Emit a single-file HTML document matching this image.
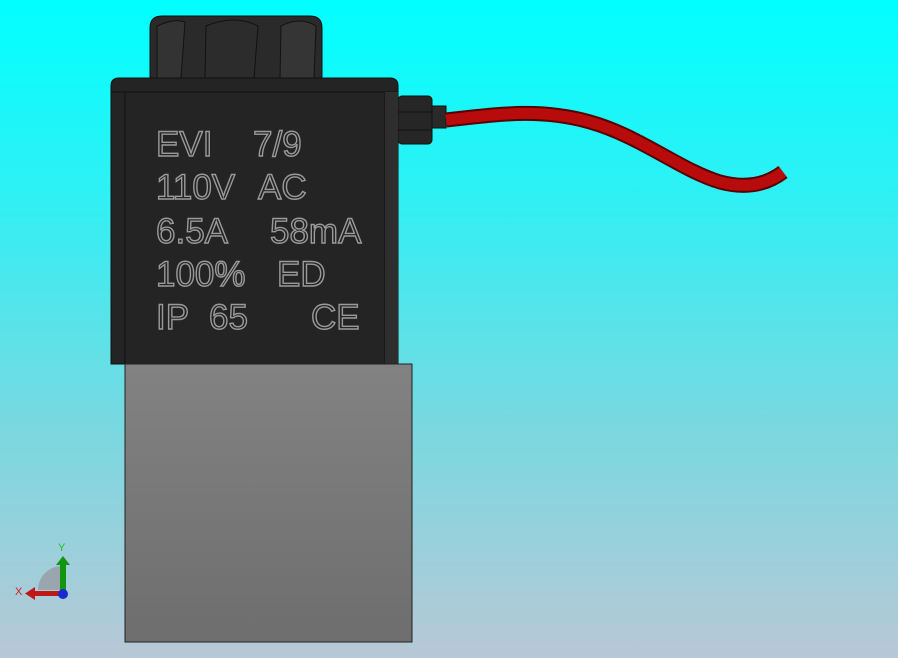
<!DOCTYPE html>
<html><head><style>
html,body{margin:0;padding:0;}
body{width:898px;height:658px;overflow:hidden;background:linear-gradient(#00ffff 0%,#30f0f4 30%,#7ad8e0 65%,#b8c8d6 100%);}
</style></head><body>
<svg width="898" height="658" viewBox="0 0 898 658" xmlns="http://www.w3.org/2000/svg" style="position:absolute;left:0;top:0">
<defs>
<linearGradient id="g" x1="0" y1="0" x2="0" y2="1"><stop offset="0" stop-color="#828282"/><stop offset="1" stop-color="#6e6e6e"/></linearGradient>
</defs>
<path d="M150,78 L150,28 Q150,16 162,16 L310,16 Q322,16 322,28 L322,78 Z" fill="#2a2a2a" stroke="#111" stroke-width="1"/>
<path d="M157,78 L157,26 Q175,18 185,22 L181,78" fill="#333" stroke="#111"/>
<path d="M205,78 L206,26 Q235,14 258,26 L254,78" fill="#2c2c2c" stroke="#111"/>
<path d="M280,78 L281,26 Q300,16 316,26 L314,78" fill="#353535" stroke="#111"/>
<rect x="398" y="96" width="34" height="48" rx="4" fill="#262626" stroke="#111"/>
<line x1="398" y1="112" x2="432" y2="112" stroke="#111"/>
<line x1="398" y1="130" x2="432" y2="130" stroke="#111"/>
<rect x="432" y="106" width="14" height="22" fill="#2a2a2a" stroke="#111"/>
<path d="M446,120 C500,114 540,108 590,122 C640,136 680,170 720,182 C750,190 770,182 783,172" fill="none" stroke="#5a0000" stroke-width="15"/>
<path d="M446,120 C500,114 540,108 590,122 C640,136 680,170 720,182 C750,190 770,182 783,172" fill="none" stroke="#b80c0c" stroke-width="11"/>
<path d="M111,364 L111,86 Q111,78 119,78 L390,78 Q398,78 398,86 L398,364 Z" fill="#242424" stroke="#111"/>
<line x1="111" y1="92" x2="398" y2="92" stroke="#111"/>
<line x1="125" y1="92" x2="125" y2="364" stroke="#111"/>
<line x1="385" y1="92" x2="385" y2="364" stroke="#111"/>
<rect x="385" y="92" width="13" height="272" fill="#2e2e2e"/>
<g font-family="Liberation Sans, sans-serif" font-size="35" fill="#242424" stroke="#9a9a9a" stroke-width="1.4">
<text x="156" y="156">EVI</text><text x="253" y="156">7/9</text>
<text x="156" y="199">110V</text><text x="258" y="199">AC</text>
<text x="156" y="243">6.5A</text><text x="270" y="243">58mA</text>
<text x="156" y="286">100%</text><text x="277" y="286">ED</text>
<text x="156" y="329">IP</text><text x="209" y="329">65</text><text x="311" y="329">CE</text>
</g>
<rect x="125" y="364" width="287" height="278" fill="url(#g)" stroke="#222"/>
<path d="M38,590 A24,24 0 0 1 62,566 L62,590 Z" fill="#9aa6ae"/>
<rect x="60" y="563" width="6" height="27" fill="#129612"/>
<path d="M56,565 L63,556 L70,565 Z" fill="#129612"/>
<rect x="34" y="591" width="28" height="5" fill="#c01818"/>
<path d="M35,587 L25,593.5 L35,600 Z" fill="#c01818"/>
<circle cx="63" cy="594" r="5" fill="#1a2ad0"/>
<text x="58" y="551" font-family="Liberation Sans, sans-serif" font-size="11" fill="#22c022">Y</text>
<text x="15" y="595" font-family="Liberation Sans, sans-serif" font-size="11" fill="#d02020">X</text>
</svg>
</body></html>
